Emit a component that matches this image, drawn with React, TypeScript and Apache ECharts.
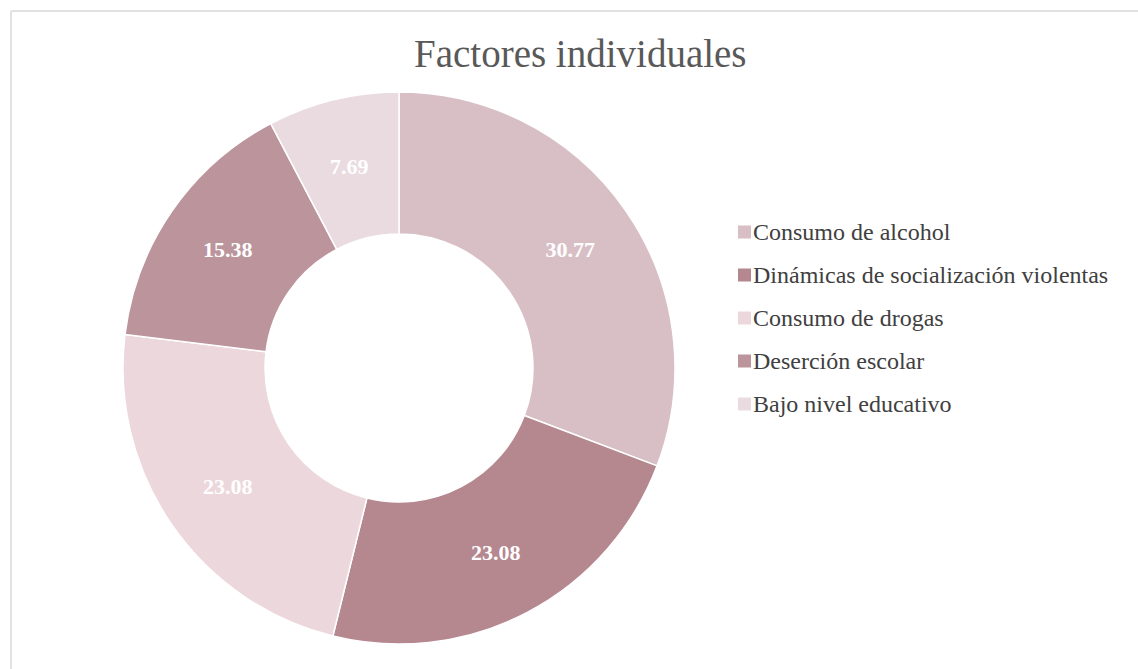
import React, { useEffect, useRef } from "react";
import * as echarts from "echarts";

const TITLE = "Factores individuales";
const categories = [
  "Consumo de alcohol",
  "Dinámicas de socialización violentas",
  "Consumo de drogas",
  "Deserción escolar",
  "Bajo nivel educativo",
];
const values = [30.77, 23.08, 23.08, 15.38, 7.69];
const colors = ["#d8bfc6", "#b5878f", "#ecd7dc", "#bc949c", "#e9dbe0"];

const FONT = "'Liberation Serif', 'DejaVu Serif', serif";

export default function App() {
  const ref = useRef<HTMLDivElement>(null);
  useEffect(() => {
    if (!ref.current) return;
    const chart = echarts.init(ref.current, undefined, { renderer: "svg" });
    chart.setOption({
      animation: false,
      backgroundColor: "#ffffff",
      title: {
        text: TITLE,
        left: 409,
        top: 29,
        textStyle: {
          fontFamily: FONT,
          fontSize: 39,
          fontWeight: "normal",
          color: "#595959",
        },
      },
      graphic: [
        {
          type: "line",
          shape: { x1: 11, y1: 11, x2: 1138, y2: 11 },
          style: { stroke: "#e2e2e2", lineWidth: 2 },
          silent: true,
        },
        {
          type: "line",
          shape: { x1: 11, y1: 11, x2: 11, y2: 669 },
          style: { stroke: "#e2e2e2", lineWidth: 2 },
          silent: true,
        },
      ],
      legend: {
        orient: "vertical",
        left: 731,
        top: 215,
        itemWidth: 15,
        itemHeight: 15,
        itemGap: 19,
        icon: "rect",
        textStyle: {
          fontFamily: FONT,
          fontSize: 24,
          color: "#404040",
          lineHeight: 24,
          padding: [0, 0, 0, -4],
        },
        data: categories,
      },
      series: [
        {
          type: "pie",
          center: [399, 368],
          radius: [134, 276],
          startAngle: 90,
          clockwise: true,
          avoidLabelOverlap: false,
          itemStyle: { borderColor: "#ffffff", borderWidth: 1.5 },
          label: {
            show: true,
            position: "inside",
            formatter: (p: any) => p.value.toFixed(2),
            fontFamily: FONT,
            fontSize: 22,
            fontWeight: "bold",
            color: "#ffffff",
          },
          labelLine: { show: false },
          emphasis: { disabled: true },
          data: categories.map((c, i) => ({
            name: c,
            value: values[i],
            itemStyle: { color: colors[i] },
          })),
        },
      ],
    });
    return () => chart.dispose();
  }, []);
  return (
    <div
      ref={ref}
      style={{ position: "fixed", left: 0, top: 0, width: 1138, height: 669 }}
    />
  );
}
